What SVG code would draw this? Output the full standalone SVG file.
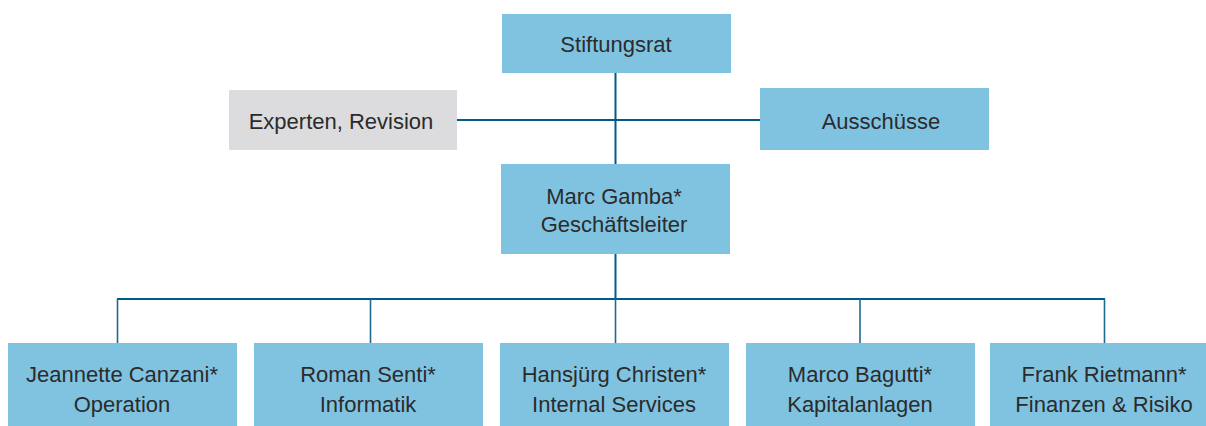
<svg xmlns="http://www.w3.org/2000/svg" width="1206" height="426" viewBox="0 0 1206 426">
<style>
.box{fill:#80c3e1}
.gray{fill:#dcdcde}
.t{font-family:"Liberation Sans",Arial,sans-serif;font-size:22px;fill:#2b2b2b;text-anchor:middle}
.ln{stroke:#005b86;stroke-width:2;fill:none}
.dr{stroke:#1f6a90;stroke-width:1.6;fill:none}
</style>
<rect width="1206" height="426" fill="#ffffff"/>
<g id="connectors">
<line class="ln" x1="615.5" y1="73" x2="615.5" y2="164"/>
<line class="ln" x1="457" y1="120" x2="760" y2="120"/>
<line class="ln" x1="615.5" y1="253" x2="615.5" y2="299"/>
<line class="ln" x1="117" y1="299" x2="1105" y2="299"/>
<line class="dr" x1="117.5" y1="299" x2="117.5" y2="343"/>
<line class="dr" x1="370.5" y1="299" x2="370.5" y2="343"/>
<line class="dr" x1="615.5" y1="299" x2="615.5" y2="343"/>
<line class="dr" x1="860" y1="299" x2="860" y2="343"/>
<line class="dr" x1="1104.5" y1="299" x2="1104.5" y2="343"/>
</g>
<g id="stiftungsrat">
<rect class="box" x="502" y="14" width="229" height="59"/>
<text class="t" x="616" y="52">Stiftungsrat</text>
</g>
<g id="experten">
<rect class="gray" x="229" y="90" width="228" height="60"/>
<text class="t" x="341" y="129">Experten, Revision</text>
</g>
<g id="ausschuesse">
<rect class="box" x="760" y="88" width="229" height="62"/>
<text class="t" x="881" y="129">Ausschüsse</text>
</g>
<g id="gamba">
<rect class="box" x="501" y="164" width="229" height="90"/>
<text class="t" x="614" y="204">Marc Gamba*</text>
<text class="t" x="614" y="232">Geschäftsleiter</text>
</g>
<g id="canzani">
<rect class="box" x="8" y="343" width="229" height="83"/>
<text class="t" x="122" y="382">Jeannette Canzani*</text>
<text class="t" x="122" y="412">Operation</text>
</g>
<g id="senti">
<rect class="box" x="254" y="343" width="229" height="83"/>
<text class="t" x="368" y="382">Roman Senti*</text>
<text class="t" x="368" y="412">Informatik</text>
</g>
<g id="christen">
<rect class="box" x="500" y="343" width="229" height="83"/>
<text class="t" x="614" y="382">Hansjürg Christen*</text>
<text class="t" x="614" y="412">Internal Services</text>
</g>
<g id="bagutti">
<rect class="box" x="746" y="343" width="229" height="83"/>
<text class="t" x="860" y="382">Marco Bagutti*</text>
<text class="t" x="860" y="412">Kapitalanlagen</text>
</g>
<g id="rietmann">
<rect class="box" x="990" y="343" width="216" height="83"/>
<text class="t" x="1104" y="382">Frank Rietmann*</text>
<text class="t" x="1104" y="412">Finanzen &amp; Risiko</text>
</g>
</svg>
